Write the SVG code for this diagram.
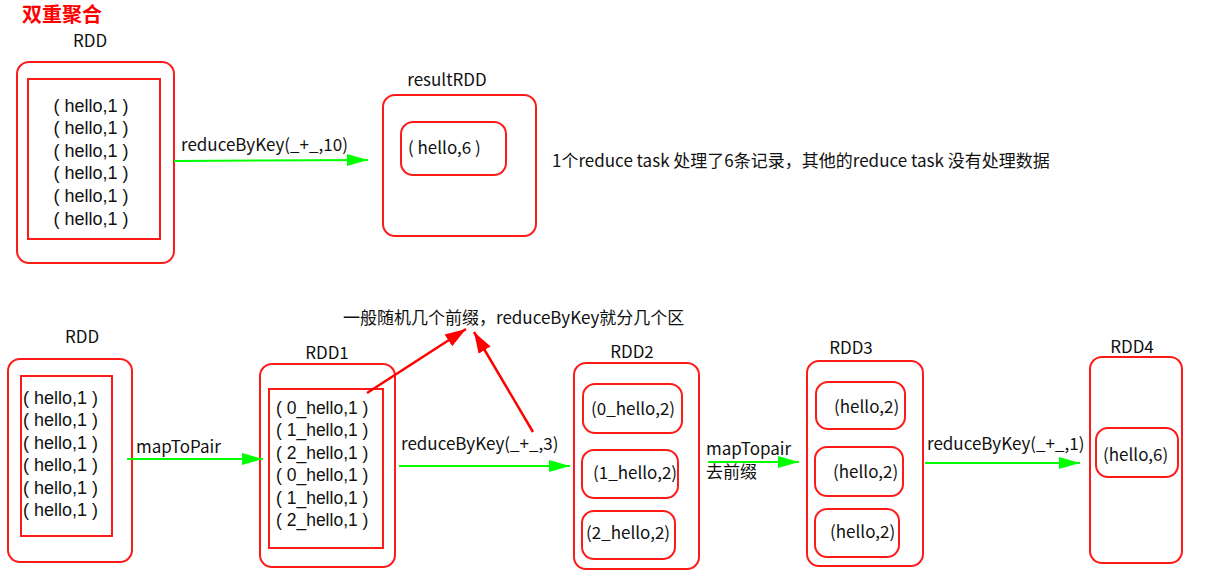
<svg xmlns="http://www.w3.org/2000/svg" width="1210" height="578" viewBox="0 0 1210 578">
<defs>
<marker id="ga" markerUnits="userSpaceOnUse" markerWidth="22" markerHeight="14" refX="21" refY="7" orient="auto"><path d="M0,1 L21,7 L0,13 Z" fill="#00ff00"/></marker>
<marker id="ra" markerUnits="userSpaceOnUse" markerWidth="22" markerHeight="16" refX="21" refY="8" orient="auto"><path d="M0,1 L21,8 L0,15 Z" fill="#ff0000"/></marker>
</defs>
<style>
text{font-family:"Noto Sans CJK SC","Noto Sans",sans-serif;font-size:17px;fill:#111}
.c{text-anchor:middle}
.l{font-family:"Liberation Sans",Arial,sans-serif;font-size:18px}
.l2{font-family:"Liberation Sans",Arial,sans-serif;font-size:17.5px}
.box{fill:none;stroke:#ff1a1a;stroke-width:2}
.g{stroke:#00ff00;stroke-width:2;fill:none;marker-end:url(#ga)}
.r{stroke:#ff0000;stroke-width:2.5;fill:none;marker-end:url(#ra)}
.t{font-size:20px;font-weight:bold;fill:#ff0000}
</style>
<rect width="1210" height="578" fill="#fff"/>
<text class="t" x="22" y="22">双重聚合</text>

<g id="rddTop">
<text class="c" x="90" y="47">RDD</text>
<rect class="box" x="17" y="62" width="157" height="201" rx="12"/>
<rect class="box" x="28" y="79" width="132" height="160"/>
<text class="c l" x="91" y="112">( hello,1 )</text>
<text class="c l" x="91" y="134">( hello,1 )</text>
<text class="c l" x="91" y="157">( hello,1 )</text>
<text class="c l" x="91" y="179">( hello,1 )</text>
<text class="c l" x="91" y="202">( hello,1 )</text>
<text class="c l" x="91" y="225">( hello,1 )</text>
</g>

<g id="resultRDD">
<text class="c" x="447" y="86">resultRDD</text>
<rect class="box" x="383" y="95" width="153" height="141" rx="12"/>
<rect class="box" x="401" y="122" width="105" height="53" rx="12"/>
<text x="408" y="154">( hello,6 )</text>
</g>

<g id="note1">
<text x="552" y="167">1个reduce task 处理了6条记录，其他的reduce task 没有处理数据</text>
</g>

<g id="rddBottom">
<text class="c" x="82" y="343">RDD</text>
<rect class="box" x="8" y="359" width="124" height="203" rx="12"/>
<rect class="box" x="21" y="376" width="91" height="160"/>
<text class="l" x="23" y="404">( hello,1 )</text>
<text class="l" x="23" y="426">( hello,1 )</text>
<text class="l" x="23" y="449">( hello,1 )</text>
<text class="l" x="23" y="471">( hello,1 )</text>
<text class="l" x="23" y="494">( hello,1 )</text>
<text class="l" x="23" y="516">( hello,1 )</text>
</g>

<g id="rdd1">
<text class="c" x="327" y="359">RDD1</text>
<rect class="box" x="260" y="364" width="135" height="203" rx="12"/>
<rect class="box" x="269" y="389" width="114" height="159"/>
<text class="l2" x="276" y="414">( 0_hello,1 )</text>
<text class="l2" x="276" y="436">( 1_hello,1 )</text>
<text class="l2" x="276" y="459">( 2_hello,1 )</text>
<text class="l2" x="276" y="481">( 0_hello,1 )</text>
<text class="l2" x="276" y="504">( 1_hello,1 )</text>
<text class="l2" x="276" y="526">( 2_hello,1 )</text>
</g>

<g id="note2">
<text x="343" y="324">一般随机几个前缀，reduceByKey就分几个区</text>
</g>

<g id="rdd2">
<text class="c" x="632" y="358">RDD2</text>
<rect class="box" x="574" y="363" width="125" height="206" rx="12"/>
<rect class="box" x="583" y="384" width="99" height="49" rx="12"/>
<text x="591" y="415">(0_hello,2)</text>
<rect class="box" x="582" y="450" width="96" height="48" rx="12"/>
<text x="593" y="479">(1_hello,2)</text>
<rect class="box" x="582" y="511" width="93" height="48" rx="12"/>
<text x="586" y="539">(2_hello,2)</text>
</g>

<g id="rdd3">
<text class="c" x="851" y="354">RDD3</text>
<rect class="box" x="807" y="361" width="116" height="205" rx="12"/>
<rect class="box" x="816" y="382" width="89" height="47" rx="12"/>
<text x="834" y="413">(hello,2)</text>
<rect class="box" x="815" y="447" width="88" height="49" rx="12"/>
<text x="833" y="478">(hello,2)</text>
<rect class="box" x="815" y="509" width="84" height="48" rx="12"/>
<text x="830" y="538">(hello,2)</text>
</g>

<g id="rdd4">
<text class="c" x="1132" y="353">RDD4</text>
<rect class="box" x="1090" y="357" width="92" height="206" rx="12"/>
<rect class="box" x="1096" y="428" width="82" height="49" rx="12"/>
<text x="1103" y="461">(hello,6)</text>
</g>

<g id="connectors">
<line class="g" x1="174" y1="161" x2="368" y2="160"/>
<text x="181" y="151">reduceByKey(_+_,10)</text>
<line class="g" x1="127" y1="459" x2="263" y2="459"/>
<text x="136" y="453">mapToPair</text>
<line class="g" x1="399" y1="466" x2="570" y2="466"/>
<text x="401" y="450">reduceByKey(_+_,3)</text>
<line class="g" x1="708" y1="462" x2="799" y2="462"/>
<text x="706" y="455">mapTopair</text>
<text x="706" y="478">去前缀</text>
<line class="g" x1="925" y1="463" x2="1080" y2="463"/>
<text x="927" y="450">reduceByKey(_+_,1)</text>
<line class="r" x1="367" y1="393" x2="466" y2="329"/>
<line class="r" x1="533" y1="432" x2="474" y2="332"/>
</g>
</svg>
